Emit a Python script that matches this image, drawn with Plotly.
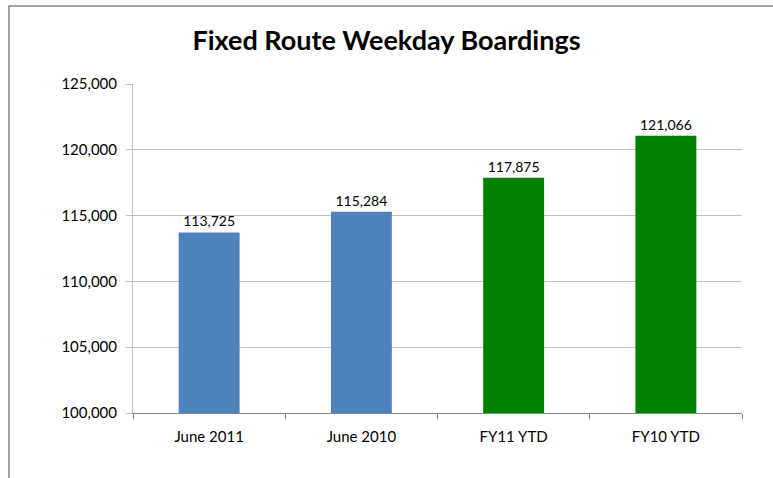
import plotly.graph_objects as go

categories = ["June 2011", "June 2010", "FY11 YTD", "FY10 YTD"]
boardings = [113725, 115284, 117875, 121066]
bar_colors = ["#4F81BD", "#4F81BD", "#008000", "#008000"]

FONT = "Lato, Carlito, 'Liberation Sans', sans-serif"

fig = go.Figure()
fig.add_trace(go.Bar(
    x=categories, y=boardings, marker=dict(color=bar_colors, line=dict(width=0)),
    text=[f"{v:,}" for v in boardings], textposition="outside",
    textfont=dict(size=14, color="#000000"), cliponaxis=False,
))

# outer chart frame (Excel-style chart area border)
fig.add_shape(type="rect", xref="paper", yref="paper",
              x0=-0.2036, x1=1.2, y0=-0.5, y1=1.237,
              line=dict(color="#868686", width=1.5), fillcolor="rgba(0,0,0,0)")

fig.update_layout(
    width=773, height=478,
    margin=dict(l=133, r=31, t=84, b=65),
    plot_bgcolor="white", paper_bgcolor="white",
    font=dict(family=FONT, size=15, color="#000000"),
    title=dict(text="<b>Fixed Route Weekday Boardings</b>", x=0.5, xref="container",
               xanchor="center", y=0.916, yref="container", yanchor="middle",
               font=dict(family=FONT, size=27, color="#000000")),
    bargap=0.6, showlegend=False,
)
fig.update_yaxes(range=[100000, 125000], dtick=5000, tickformat=",",
                 showgrid=True, gridcolor="#BFBFBF", gridwidth=1,
                 showline=True, linecolor="#BFBFBF", linewidth=1,
                 ticks="outside", ticklen=6, tickcolor="#BFBFBF",
                 ticklabelstandoff=6,
                 zeroline=False, tickfont=dict(size=15))
fig.update_xaxes(showline=True, linecolor="#868686", linewidth=1,
                 ticks="outside", ticklen=5, tickcolor="#868686",
                 tickson="boundaries", ticklabelstandoff=10, tickfont=dict(size=15))

# page body margin off so the figure sits at the window origin
fig.write_html("out.html", config={"displayModeBar": False},
               post_script="document.body.style.margin='0';")
